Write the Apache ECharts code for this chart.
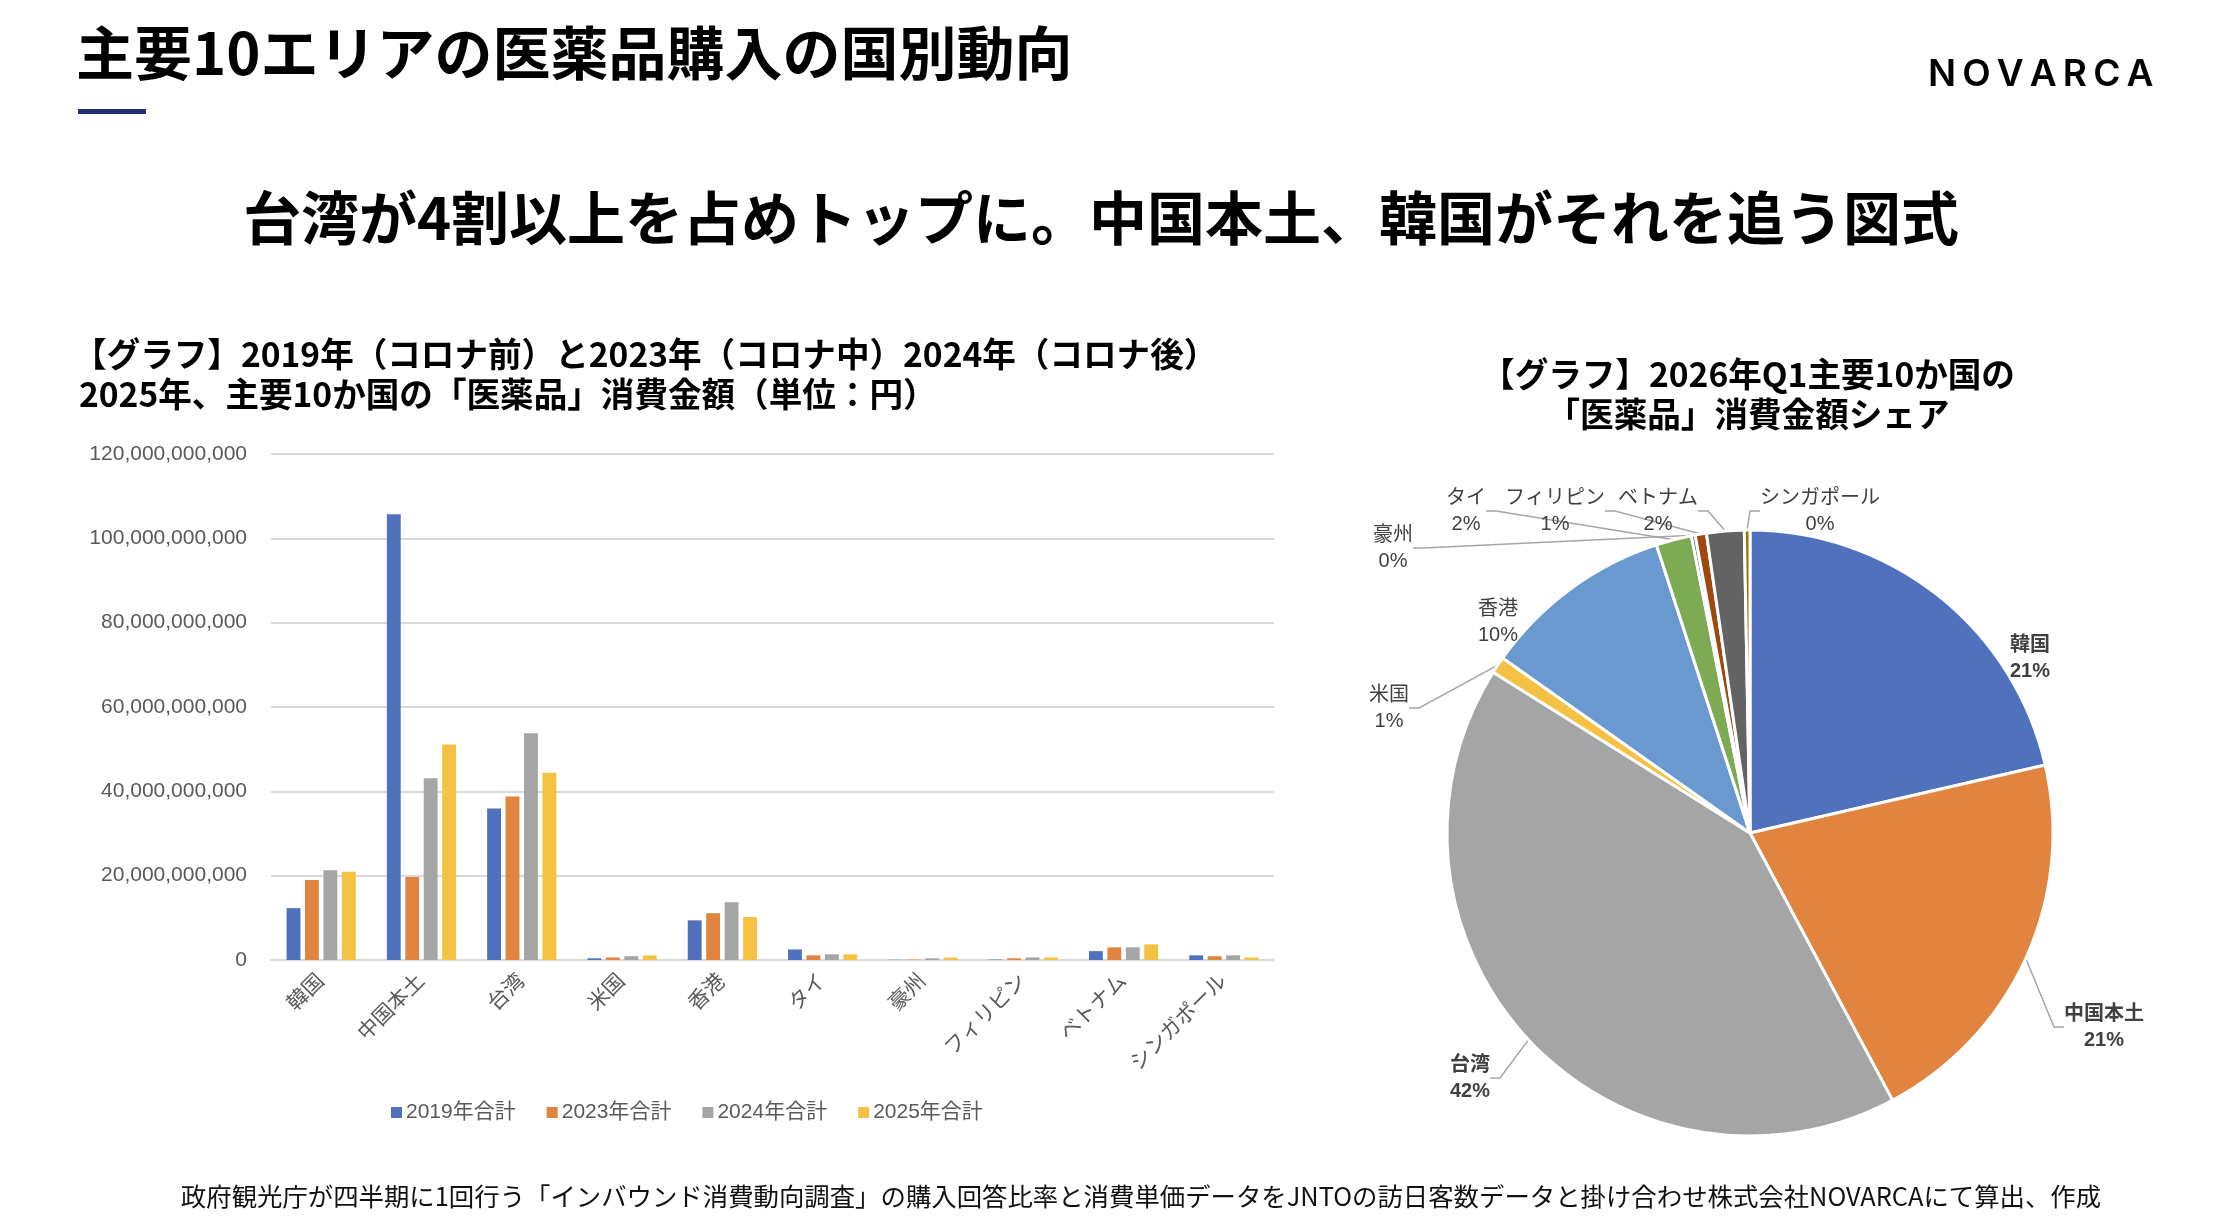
<!DOCTYPE html>
<html>
<head>
<meta charset="utf-8">
<title>主要10エリアの医薬品購入の国別動向</title>
<script src="https://cdn.jsdelivr.net/npm/echarts@6/dist/echarts.min.js"></script>
<style>
  html, body { margin: 0; padding: 0; background: #fff; }
  #main { width: 2226px; height: 1220px; }
</style>
</head>
<body>
<div id="main"></div>
<script>
// categories (same order in the bar chart and the pie)
const countries = ["韓国", "中国本土", "台湾", "米国", "香港", "タイ", "豪州", "フィリピン", "ベトナム", "シンガポール"];

// bar values, in billions of yen
const total2019 = [12.3, 105.7, 35.9, 0.4, 9.4, 2.5, 0.05, 0.1, 2.1, 1.1];
const total2023 = [19.0, 19.7, 38.8, 0.6, 11.1, 1.1, 0.1, 0.4, 3.0, 0.9];
const total2024 = [21.3, 43.1, 53.8, 0.9, 13.7, 1.35, 0.4, 0.6, 3.0, 1.1];
const total2025 = [20.9, 51.1, 44.4, 1.1, 10.2, 1.35, 0.6, 0.6, 3.7, 0.6];
const seriesNames = ["2019年合計", "2023年合計", "2024年合計", "2025年合計"];

// 2026 Q1 share, percent
const share2026q1 = [21.4, 20.8, 41.7, 0.9, 10.2, 1.9, 0.2, 0.6, 2.0, 0.3];

const yTicks = [0, 20e9, 40e9, 60e9, 80e9, 100e9, 120e9];

const palette = ["#4F71BE", "#E0843F", "#A5A5A5", "#F5C142", "#6A99D0", "#7DAB54", "#264478", "#9E480E", "#636363", "#997300"];

// where the pie labels sit (px in the page)
const pieLabelPos = [
  [2030, 658], [2104, 1027], [1470, 1078], [1389, 708], [1498, 622],
  [1466, 511], [1393, 548], [1555, 511], [1658, 511], [1820, 511]
];

const BIL = 1e9;
const jp = '"Noto Sans CJK JP"';
const axisFont = '"Liberation Sans", "Noto Sans CJK JP"';

let myChart = echarts.init(document.getElementById("main"), null, { renderer: "canvas" });

let barSeries = [total2019, total2023, total2024, total2025].map(function (vals, i) {
  return {
    name: seriesNames[i],
    type: "bar",
    data: vals.map(function (v) { return v * BIL; }),
    itemStyle: { color: palette[i] },
    barGap: "33%",
    barCategoryGap: "31%"
  };
});

let pieData = countries.map(function (c, i) {
  return {
    name: c,
    value: share2026q1[i],
    itemStyle: { color: palette[i] },
    label: { fontWeight: i < 3 ? "bold" : "normal" },
    labelLine: { show: !(i === 0 || i === 4) }
  };
});

function text(x, y, str, size, opts) {
  opts = opts || {};
  return {
    type: "text",
    x: x,
    y: y,
    silent: true,
    style: {
      text: str,
      fontSize: size,
      fontFamily: opts.family || jp,
      fontWeight: opts.weight || "bold",
      fill: opts.color || "#000",
      align: opts.align || "left",
      verticalAlign: "middle"
    }
  };
}

let option = {
  animation: false,
  backgroundColor: "#fff",
  graphic: [
    text(76, 53, "主要10エリアの医薬品購入の国別動向", 58),
    { type: "rect", shape: { x: 78, y: 109, width: 68, height: 5 }, style: { fill: "#1F2C6E" }, silent: true },
    text(1928, 75, "N\u2009O\u2009V\u2009A\u2009R\u2009C\u2009A", 37, { family: "Inter", weight: 600 }),
    text(1101, 218, "台湾が4割以上を占めトップに。中国本土、韓国がそれを追う図式", 58, { align: "center" }),
    text(73, 354, "【グラフ】2019年（コロナ前）と2023年（コロナ中）2024年（コロナ後）", 33.6),
    text(79, 394, "2025年、主要10か国の「医薬品」消費金額（単位：円）", 33.6),
    text(1748, 374, "【グラフ】2026年Q1主要10か国の", 33.6, { align: "center" }),
    text(1748, 414, "「医薬品」消費金額シェア", 33.6, { align: "center" }),
    text(1141, 1196, "政府観光庁が四半期に1回行う「インバウンド消費動向調査」の購入回答比率と消費単価データをJNTOの訪日客数データと掛け合わせ株式会社NOVARCAにて算出、作成", 25.4, { align: "center", weight: "normal", color: "#111" })
  ],
  legend: {
    data: seriesNames,
    left: 386,
    top: 1097,
    itemWidth: 11,
    itemHeight: 11,
    itemGap: 31,
    icon: "rect",
    textStyle: { fontSize: 21, color: "#595959", fontFamily: axisFont, padding: [0, 0, 0, -1] }
  },
  grid: { left: 271, top: 454, width: 1003, height: 506 },
  xAxis: {
    type: "category",
    data: countries,
    axisLine: { lineStyle: { color: "#D9D9D9", width: 2 } },
    axisTick: { show: false },
    axisLabel: { rotate: 45, interval: 0, margin: 18, fontSize: 21, color: "#595959", fontFamily: axisFont }
  },
  yAxis: {
    type: "value",
    min: yTicks[0],
    max: yTicks[yTicks.length - 1],
    interval: yTicks[1] - yTicks[0],
    axisLine: { show: false },
    axisTick: { show: false },
    splitLine: { lineStyle: { color: "#D9D9D9", width: 2 } },
    axisLabel: {
      margin: 24,
      fontSize: 21,
      color: "#595959",
      fontFamily: axisFont,
      formatter: function (v) { return v.toLocaleString("en-US"); }
    }
  },
  series: barSeries.concat([
    {
      type: "pie",
      center: [1750, 833],
      radius: 303,
      startAngle: 90,
      clockwise: true,
      data: pieData,
      itemStyle: { borderColor: "#fff", borderWidth: 3 },
      label: {
        show: true,
        position: "outside",
        fontSize: 20,
        lineHeight: 26,
        color: "#404040",
        fontFamily: axisFont,
        align: "center",
        formatter: function (p) { return p.name + "\n" + Math.round(p.percent) + "%"; }
      },
      labelLine: { show: true, length: 10, length2: 10, lineStyle: { color: "#A6A6A6", width: 1.5 } },
      labelLayout: function (params) {
        let p = pieLabelPos[params.dataIndex];
        return { x: p[0], y: p[1], align: "center", verticalAlign: "middle" };
      },
      emphasis: { disabled: true }
    }
  ])
};

if (option && typeof option === "object") {
  myChart.setOption(option);
}
window.addEventListener("resize", myChart.resize);
</script>
</body>
</html>
